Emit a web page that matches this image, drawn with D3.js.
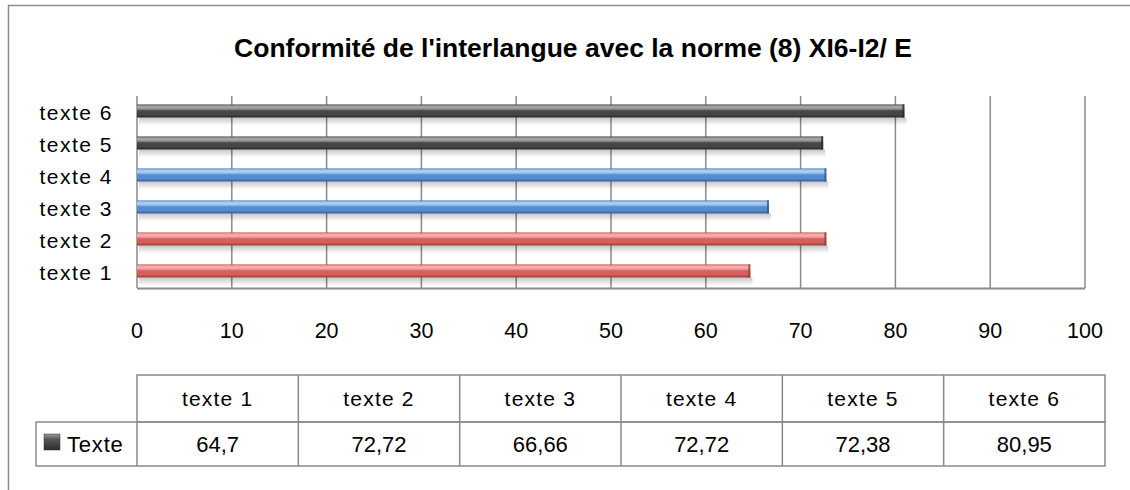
<!DOCTYPE html>
<html>
<head>
<meta charset="utf-8">
<script src="https://cdn.jsdelivr.net/npm/d3@7"></script>
<style>
  body { margin: 0; background: #fff; }
  text { font-family: "Liberation Sans", Arial, sans-serif; fill: #000; }
</style>
</head>
<body>
<div id="chart"></div>
<script>
// Data
const categories = ["texte 1", "texte 2", "texte 3", "texte 4", "texte 5", "texte 6"];
const values = [64.7, 72.72, 66.66, 72.72, 72.38, 80.95];
const valueLabels = ["64,7", "72,72", "66,66", "72,72", "72,38", "80,95"];
const xTicks = [0, 10, 20, 30, 40, 50, 60, 70, 80, 90, 100];
const seriesName = "Texte";

// bar colour family per category (top edge, highlight, body, bottom)
const barPalettes = [
  ["#b8504d", "#f6aaa8", "#d65e5b", "#8f3d3b"],
  ["#b8504d", "#f6aaa8", "#d65e5b", "#8f3d3b"],
  ["#4676b0", "#a6cbf4", "#578bcf", "#375a8a"],
  ["#4676b0", "#a6cbf4", "#578bcf", "#375a8a"],
  ["#474747", "#a0a0a0", "#464646", "#272727"],
  ["#474747", "#a0a0a0", "#464646", "#272727"]
];

const WIDTH = 1130;
const HEIGHT = 490;
const GRID = "#8a8a8a";

const svg = d3.select("#chart")
  .append("svg")
  .attr("width", WIDTH)
  .attr("height", HEIGHT);

const defs = svg.append("defs");

// gradients for the cylinder-like bars
barPalettes.forEach((p, i) => {
  const g = defs.append("linearGradient")
    .attr("id", "bar-grad-" + i)
    .attr("x1", 0).attr("y1", 0).attr("x2", 0).attr("y2", 1);
  g.append("stop").attr("offset", "0%").attr("stop-color", p[0]);
  g.append("stop").attr("offset", "12%").attr("stop-color", p[1]);
  g.append("stop").attr("offset", "30%").attr("stop-color", p[1]);
  g.append("stop").attr("offset", "50%").attr("stop-color", p[2]);
  g.append("stop").attr("offset", "78%").attr("stop-color", p[2]);
  g.append("stop").attr("offset", "100%").attr("stop-color", p[3]);
});

const shadow = defs.append("linearGradient")
  .attr("id", "shadow-grad")
  .attr("x1", 0).attr("y1", 0).attr("x2", 0).attr("y2", 1);
shadow.append("stop").attr("offset", "0%").attr("stop-color", "#000").attr("stop-opacity", 0.22);
shadow.append("stop").attr("offset", "100%").attr("stop-color", "#000").attr("stop-opacity", 0);

// Outer chart frame (runs off the right and bottom edges)
svg.append("rect")
  .attr("x", 8.5).attr("y", 5.5)
  .attr("width", 1200).attr("height", 600)
  .attr("fill", "none")
  .attr("stroke", "#8c8c8c")
  .attr("stroke-width", 1.5);

// Title
svg.append("text")
  .attr("x", 573)
  .attr("y", 57)
  .attr("text-anchor", "middle")
  .attr("font-size", "26.5px")
  .attr("font-weight", "bold")
  .text("Conformité de l'interlangue avec la norme (8) XI6-I2/ E");

// Scales
const x = d3.scaleLinear().domain([0, 100]).range([137, 1085]);
const y = d3.scaleBand()
  .domain(categories.slice().reverse())
  .range([96, 288])
  .paddingInner(0.59)
  .paddingOuter(0.295);

// Gridlines
svg.append("g")
  .selectAll("line")
  .data(xTicks)
  .enter()
  .append("line")
  .attr("x1", (d) => x(d))
  .attr("x2", (d) => x(d))
  .attr("y1", 96)
  .attr("y2", 288)
  .attr("stroke", GRID)
  .attr("stroke-width", 1.5);

// bottom axis line
svg.append("line")
  .attr("x1", x(0)).attr("x2", x(100))
  .attr("y1", 288.5).attr("y2", 288.5)
  .attr("stroke", GRID)
  .attr("stroke-width", 2);

// tick labels
svg.append("g")
  .selectAll("text")
  .data(xTicks)
  .enter()
  .append("text")
  .attr("x", (d) => x(d))
  .attr("y", 338)
  .attr("text-anchor", "middle")
  .attr("font-size", "21.5px")
  .text((d) => d);

// Category labels
svg.append("g")
  .selectAll("text")
  .data(categories)
  .enter()
  .append("text")
  .attr("x", 113)
  .attr("y", (d) => y(d) + y.bandwidth() / 2 + 1)
  .attr("dy", "0.35em")
  .attr("text-anchor", "end")
  .attr("font-size", "21px")
  .attr("letter-spacing", "1.5px")
  .text((d) => d);

// Bars with their shadows
const bars = svg.append("g");
categories.forEach((c, i) => {
  const top = y(c) - 1;
  const h = y.bandwidth();
  bars.append("rect")
    .attr("x", x(0) + 2)
    .attr("y", top + h)
    .attr("width", x(values[i]) - x(0))
    .attr("height", 8)
    .attr("fill", "url(#shadow-grad)");
  bars.append("rect")
    .attr("x", x(0))
    .attr("y", top)
    .attr("width", x(values[i]) - x(0))
    .attr("height", h)
    .attr("fill", "url(#bar-grad-" + i + ")");
  // darker bevel at bar end
  bars.append("rect")
    .attr("x", x(values[i]) - 2)
    .attr("y", top)
    .attr("width", 2)
    .attr("height", h)
    .attr("fill", barPalettes[i][3])
    .attr("opacity", 0.8);
});

// Data table
const col = d3.scaleBand().domain(categories).range([137, 1105]);
const tTop = 375, tMid = 422, tBot = 466, legLeft = 36;
const table = svg.append("g")
  .attr("stroke", GRID)
  .attr("stroke-width", 1.5)
  .attr("fill", "none");

table.append("rect")
  .attr("x", col.range()[0]).attr("y", tTop)
  .attr("width", col.range()[1] - col.range()[0])
  .attr("height", tMid - tTop);
table.append("rect")
  .attr("x", legLeft).attr("y", tMid)
  .attr("width", col.range()[1] - legLeft)
  .attr("height", tBot - tMid);
table.selectAll("line.col")
  .data(categories.slice(1))
  .enter()
  .append("line")
  .attr("class", "col")
  .attr("x1", (d) => col(d)).attr("x2", (d) => col(d))
  .attr("y1", tTop).attr("y2", tBot);
table.append("line")
  .attr("x1", col.range()[0]).attr("x2", col.range()[0])
  .attr("y1", tMid).attr("y2", tBot);

svg.append("g")
  .selectAll("text")
  .data(categories)
  .enter()
  .append("text")
  .attr("x", (d) => col(d) + col.bandwidth() / 2)
  .attr("y", (tTop + tMid) / 2)
  .attr("dy", "0.35em")
  .attr("text-anchor", "middle")
  .attr("font-size", "21px")
  .attr("letter-spacing", "1.2px")
  .text((d) => d);

svg.append("g")
  .selectAll("text")
  .data(valueLabels)
  .enter()
  .append("text")
  .attr("x", (d, i) => col(categories[i]) + col.bandwidth() / 2)
  .attr("y", (tMid + tBot) / 2)
  .attr("dy", "0.35em")
  .attr("text-anchor", "middle")
  .attr("font-size", "22px")
  .text((d) => d);

// legend key
const keyGrad = defs.append("linearGradient")
  .attr("id", "key-grad")
  .attr("x1", 0).attr("y1", 0).attr("x2", 0).attr("y2", 1);
keyGrad.append("stop").attr("offset", "0%").attr("stop-color", "#9a9a9a");
keyGrad.append("stop").attr("offset", "35%").attr("stop-color", "#555");
keyGrad.append("stop").attr("offset", "100%").attr("stop-color", "#2e2e2e");
svg.append("rect")
  .attr("x", 44).attr("y", 434)
  .attr("width", 16).attr("height", 16)
  .attr("fill", "url(#key-grad)")
  .attr("stroke", "#333")
  .attr("stroke-width", 0.5);
svg.append("text")
  .attr("x", 67)
  .attr("y", (tMid + tBot) / 2)
  .attr("dy", "0.35em")
  .attr("font-size", "22px")
  .attr("letter-spacing", "0.8px")
  .text(seriesName);
</script>
</body>
</html>
